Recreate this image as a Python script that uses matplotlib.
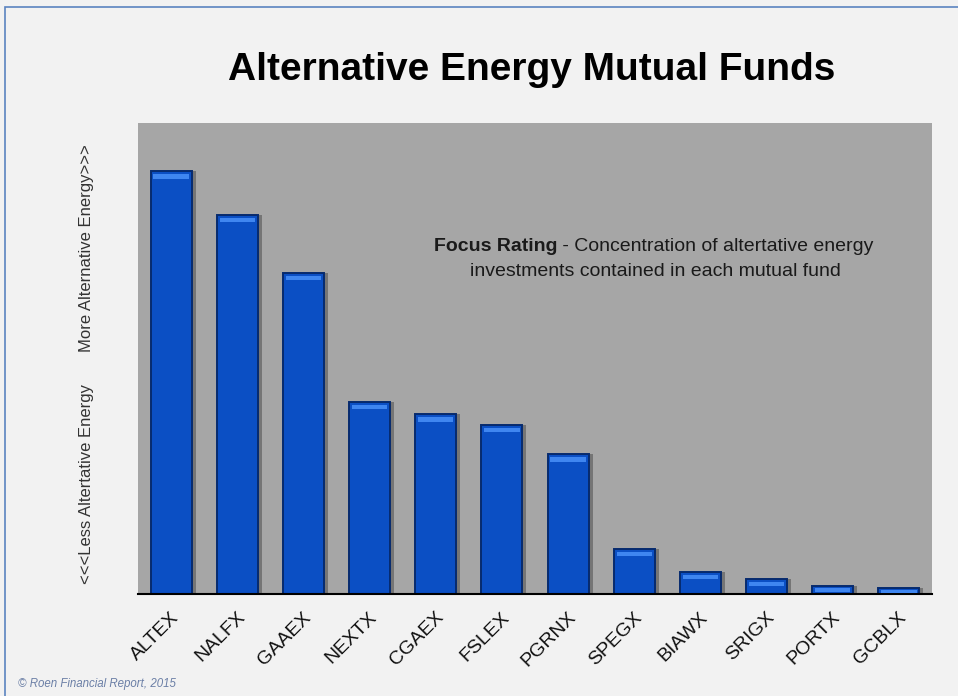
import matplotlib.pyplot as plt
import matplotlib.transforms as mtransforms
import numpy as np
from matplotlib.patches import Rectangle

plt.rcParams['font.family'] = ['Liberation Sans', 'DejaVu Sans']

# focus rating per fund (arbitrary 0-100 scale)
funds = ['ALTEX', 'NALFX', 'GAAEX', 'NEXTX', 'CGAEX', 'FSLEX',
         'PGRNX', 'SPEGX', 'BIAWX', 'SRIGX', 'PORTX', 'GCBLX']
focus = [89.8, 80.5, 68.2, 40.8, 38.2, 35.9, 29.7, 9.6, 4.7, 3.2, 1.7, 1.3]

title = 'Alternative Energy Mutual Funds'
ylab_low = '<<<Less Altertative Energy'
ylab_high = 'More Alternative Energy>>>'
note_bold = 'Focus Rating'
note_rest = ' - Concentration of altertative energy'
note_line2 = 'investments contained in each mutual fund'
credit = '\u00a9 Roen Financial Report, 2015'

W, H = 958, 696
fig = plt.figure(figsize=(W / 100, H / 100), dpi=100)
fig.patch.set_facecolor('#f2f2f2')

# thin blue frame of the slide (left and top edges visible)
fig.add_artist(Rectangle((5 / W, -0.1), 1.2, 1.1 - 7 / H, transform=fig.transFigure,
                         fill=False, edgecolor='#5b84c0', linewidth=1.2))

ax = fig.add_axes([138 / W, 1 - 594 / H, (932 - 138) / W, (594 - 123) / H])
ax.set_facecolor('#a6a6a6')

x = np.arange(len(funds))
vals = np.array(focus)
bw = 0.62

# soft shadow behind each bar
ax.bar(x + 0.06, vals, bw, color='#3a3a3a', alpha=0.45, zorder=1)
# main bars
ax.bar(x, vals, bw, color='#0b4fc4', edgecolor='#062a6e', linewidth=1.4, zorder=2)
# light strip at the top for the bevel look
strip = np.minimum(vals * 0.5, 1.0)
ax.bar(x, strip, bw * 0.86, bottom=vals - strip * 1.6, color='#3f86f0',
       linewidth=0, zorder=3)

ax.set_xlim(-0.5, len(funds) - 0.5)
ax.set_ylim(0, 100)
ax.set_yticks([])
ax.set_xticks(x)
ax.set_xticklabels(funds, rotation=45, ha='right', va='center',
                   rotation_mode='anchor', fontsize=14, color='#111111')
ax.tick_params(axis='x', length=0, pad=15)
off = mtransforms.ScaledTranslation(5 / 100, 0, fig.dpi_scale_trans)
for lbl in ax.get_xticklabels():
    lbl.set_transform(lbl.get_transform() + off)

for s in ['top', 'right', 'left']:
    ax.spines[s].set_visible(False)
ax.spines['bottom'].set_color('black')
ax.spines['bottom'].set_linewidth(1.5)

fig.text(532 / W, 1 - 70 / H, title, ha='center', va='center',
         fontsize=28, fontweight='bold', color='black')

fig.text(87 / W, 1 - 484 / H, ylab_low, rotation=90, ha='center', va='center',
         fontsize=12, color='#333333')
fig.text(87 / W, 1 - 248 / H, ylab_high, rotation=90, ha='center', va='center',
         fontsize=12, color='#333333')

fig.text(557 / W, 1 - 247 / H, note_bold, ha='right', va='center',
         fontsize=14, fontweight='bold', color='#1a1a1a')
fig.text(557 / W, 1 - 247 / H, note_rest, ha='left', va='center',
         fontsize=14, color='#1a1a1a')
fig.text(655 / W, 1 - 271 / H, note_line2, ha='center', va='center',
         fontsize=14, color='#1a1a1a')

fig.text(18 / W, 1 - 684 / H, credit, ha='left', va='center',
         fontsize=8.3, style='italic', color='#6b7fa6')

fig.savefig('out.png', dpi=100, facecolor=fig.get_facecolor())
